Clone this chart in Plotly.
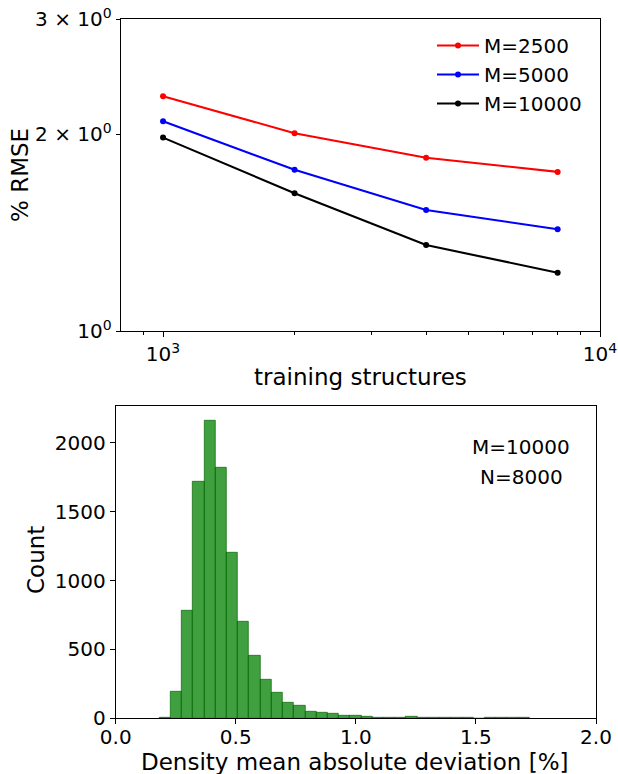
import numpy as np
import plotly.graph_objects as go

# ---------------- data ----------------
train_sizes = [1000, 2000, 4000, 8000]
rmse_m2500 = [2.288, 2.008, 1.842, 1.752]
rmse_m5000 = [2.095, 1.765, 1.532, 1.431]
rmse_m10000 = [1.977, 1.625, 1.354, 1.228]
series_names = ["M=2500", "M=5000", "M=10000"]
series_colors = ["red", "blue", "black"]

hist_bin_start = 0.182
hist_bin_width = 0.0467
hist_counts = [7, 191, 780, 1716, 2160, 1818, 1201, 700, 453, 278, 184, 111,
               90, 51, 44, 36, 22, 22, 15, 7, 7, 7, 15, 3, 2, 3, 2, 2, 0, 2, 1, 2, 1]

NB = "\u00a0"
top_ytickvals = [1, 2, 3]
top_yticktext = ["10<sup>0</sup>", "2" + NB + "×" + NB + "10<sup>0</sup>",
                 "3" + NB + "×" + NB + "10<sup>0</sup>"]
top_xtickvals = [1000, 10000]
top_xticktext = ["10<sup>3</sup>", "10<sup>4</sup>"]
top_xminor = [900, 2000, 3000, 4000, 5000, 6000, 7000, 8000, 9000]

# ---------------- figure ----------------
W, H = 618, 774
FONT = "DejaVu Sans"
TICK = 20
LABEL = 23

fig = go.Figure()
for name, col, vals in zip(series_names, series_colors,
                           [rmse_m2500, rmse_m5000, rmse_m10000]):
    fig.add_trace(go.Scatter(x=train_sizes, y=vals, mode="lines+markers", name=name,
                             line=dict(color=col, width=2.1),
                             marker=dict(color=col, size=6),
                             xaxis="x", yaxis="y"))

n = len(hist_counts)
edges = hist_bin_start + hist_bin_width * np.arange(n)
centers = edges + hist_bin_width / 2
fig.add_trace(go.Bar(x=centers, y=hist_counts, width=hist_bin_width,
                     marker=dict(color="rgba(0,128,0,0.75)",
                                 line=dict(color="rgba(0,100,0,0.85)", width=0.8)),
                     showlegend=False, xaxis="x2", yaxis="y2"))

def px(x):
    return x / W

def py(y):
    return 1 - y / H

axis_common = dict(showline=True, linecolor="black", linewidth=1.1, mirror=True,
                   ticks="outside", tickcolor="black", tickwidth=1.1, showgrid=False,
                   zeroline=False, automargin=False)
tf = dict(family=FONT, size=TICK, color="black")

fig.update_layout(
    width=W, height=H, margin=dict(l=0, r=0, t=0, b=0, autoexpand=False),
    paper_bgcolor="white", plot_bgcolor="white",
    font=dict(family=FONT, color="black"),
    bargap=0,
    xaxis=dict(type="log", range=[np.log10(800), 4], domain=[px(120.7), px(600)],
               anchor="y", tickmode="array", tickvals=top_xtickvals, ticktext=top_xticktext,
               ticklen=5, tickfont=tf,
               minor=dict(tickvals=top_xminor, ticklen=3, tickcolor="black", tickwidth=1,
                          ticks="outside"),
               **axis_common),
    yaxis=dict(type="log", range=[0, np.log10(3)], domain=[py(331), py(19.3)],
               anchor="x", tickmode="array", tickvals=top_ytickvals, ticktext=top_yticktext,
               ticklen=4, tickfont=tf, **axis_common),
    xaxis2=dict(range=[0, 2], domain=[px(115.7), px(596)], anchor="y2",
                tickmode="array", tickvals=[0, 0.5, 1.0, 1.5, 2.0],
                ticktext=["0.0", "0.5", "1.0", "1.5", "2.0"], ticklen=5, tickfont=tf,
                ticklabelstandoff=-4, **axis_common),
    yaxis2=dict(range=[0, 2270], domain=[py(718.3), py(405.7)], anchor="x2",
                tickmode="array", tickvals=[0, 500, 1000, 1500, 2000], ticklen=5,
                tickfont=tf, **axis_common),
    legend=dict(x=px(432), y=py(26), xanchor="left", yanchor="top", itemwidth=42,
                bgcolor="rgba(0,0,0,0)", font=dict(family=FONT, size=20, color="black")),
)

anns = [
    dict(text="% RMSE", x=px(20), y=py(175), textangle=-90, size=LABEL),
    dict(text="training structures", x=px(360), y=py(377), textangle=0, size=LABEL),
    dict(text="Count", x=px(36), y=py(560), textangle=-90, size=LABEL),
    dict(text="Density mean absolute deviation [%]", x=px(355), y=py(762), textangle=0, size=LABEL),
]
for a in anns:
    fig.add_annotation(text=a["text"], x=a["x"], y=a["y"], xref="paper", yref="paper",
                       textangle=a["textangle"], showarrow=False,
                       xanchor="center", yanchor="middle",
                       font=dict(family=FONT, size=a["size"], color="black"))

fig.add_annotation(text="M=10000", x=1.689, y=py(446.7), xref="x2", yref="paper",
                   showarrow=False, xanchor="center", yanchor="middle",
                   font=dict(family=FONT, size=20, color="black"))
fig.add_annotation(text="N=8000", x=1.689, y=py(477.3), xref="x2", yref="paper",
                   showarrow=False, xanchor="center", yanchor="middle",
                   font=dict(family=FONT, size=20, color="black"))

fig.write_html("out.html")
